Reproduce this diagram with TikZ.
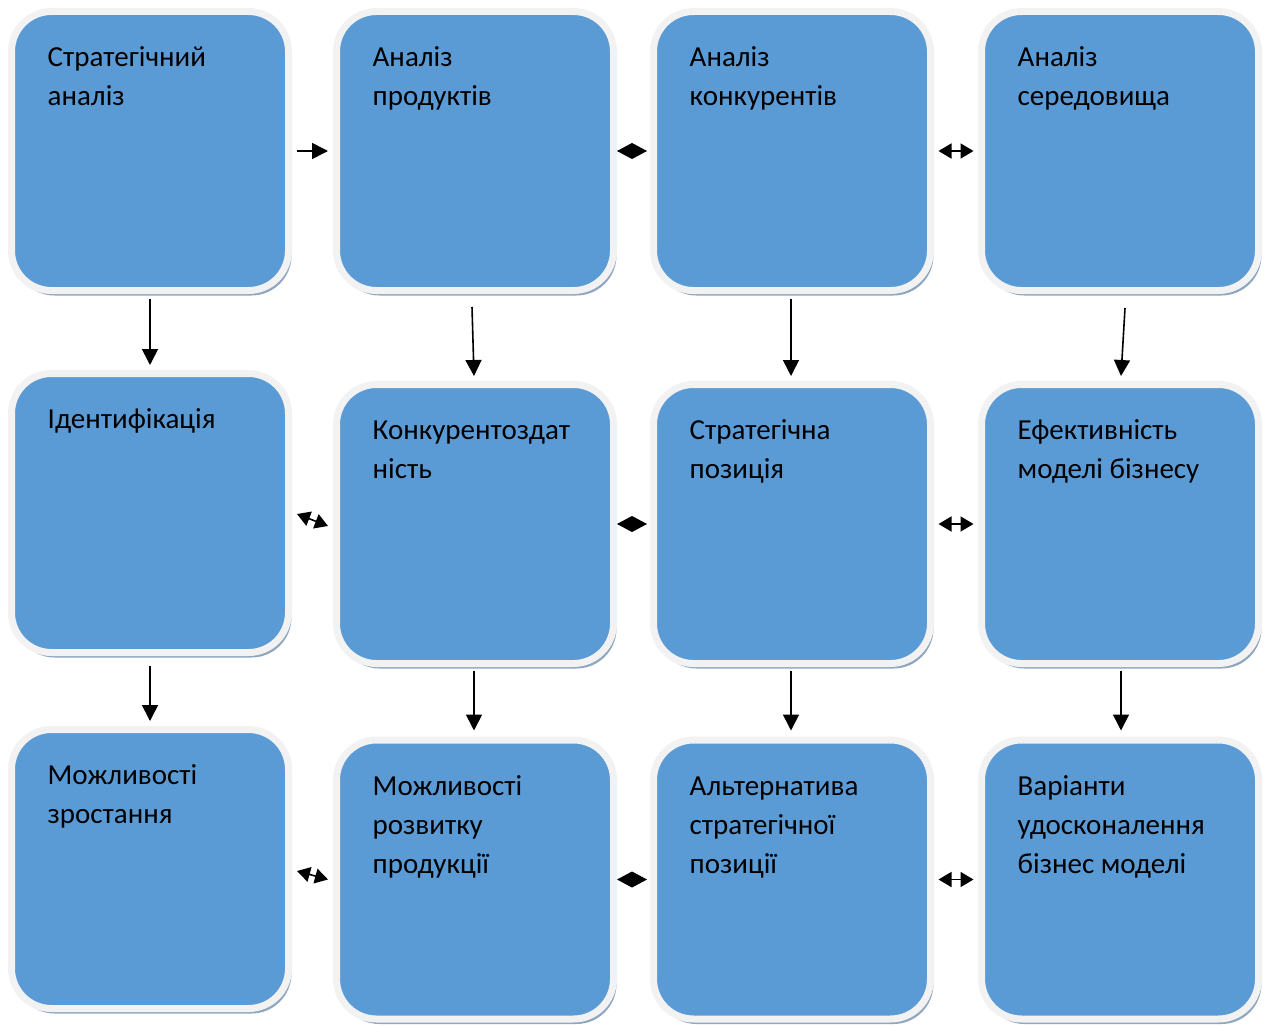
\documentclass[tikz,border=0pt]{standalone}
\usepackage{fontspec}
\setmainfont{Carlito}
\usetikzlibrary{positioning,calc,shadows}
\usetikzlibrary{arrows.meta}
\definecolor{boxblue}{HTML}{5B9BD5}
\definecolor{boxrim}{HTML}{F2F2F2}
\definecolor{boxshade}{HTML}{8FA6C0}
\tikzset{
  block/.style={rounded corners=40pt, fill=boxblue, draw=boxrim, line width=7pt,
    minimum width=277pt, minimum height=279pt, inner sep=0pt,
    drop shadow={shadow xshift=3pt, shadow yshift=-5pt, fill=boxshade, opacity=1}},
  txt/.style={anchor=base west, inner sep=0pt, align=flush left, text width=250pt,
    font=\fontsize{29}{39}\selectfont},
  onearr/.style={line width=1.6pt, -{Triangle[length=16pt,width=16pt]}},
  twoarr/.style={line width=1.6pt, {Triangle[length=13pt,width=15pt]}-{Triangle[length=13pt,width=15pt]}},
  diam/.style={line width=1pt, -{Diamond[length=30pt,width=16pt]}}
}
\begin{document}
\begin{tikzpicture}[x=1pt,y=-1pt]
	\useasboundingbox (0,0) rectangle (1273,1025);
	%% first row of blocks
	\node[block] (b11) at (150,151) {};
	\node[block] (b12) at (475,151) {};
	\node[block] (b13) at (792,151) {};
	\node[block] (b14) at (1120,151) {};
	%% second row
	\node[block] (b21) at (150,513) {};
	\node[block] (b22) at (475,524) {};
	\node[block] (b23) at (792,524) {};
	\node[block] (b24) at (1120,524) {};
	%% third row
	\node[block] (b31) at (150,869) {};
	\node[block] (b32) at (475,879.5) {};
	\node[block] (b33) at (792,879.5) {};
	\node[block] (b34) at (1120,879.5) {};
	%% texts, put at the top left of every block
	\node[txt] (t11) at ($(b11.north west)+(39.5,58.5)$) {Стратегічний\\аналіз};
	\node[txt] (t12) at ($(b12.north west)+(39.5,58.5)$) {Аналіз\\продуктів};
	\node[txt] (t13) at ($(b13.north west)+(39.5,58.5)$) {Аналіз\\конкурентів};
	\node[txt] (t14) at ($(b14.north west)+(39.5,58.5)$) {Аналіз\\середовища};
	\node[txt] (t21) at ($(b21.north west)+(39.5,58.5)$) {Ідентифікація};
	\node[txt] (t22) at ($(b22.north west)+(39.5,58.5)$) {Конкурентоздат\\ність};
	\node[txt] (t23) at ($(b23.north west)+(39.5,58.5)$) {Стратегічна\\позиція};
	\node[txt] (t24) at ($(b24.north west)+(39.5,58.5)$) {Ефективність\\моделі бізнесу};
	\node[txt] (t31) at ($(b31.north west)+(39.5,58.5)$) {Можливості\\зростання};
	\node[txt] (t32) at ($(b32.north west)+(39.5,58.5)$) {Можливості\\розвитку\\продукції};
	\node[txt] (t33) at ($(b33.north west)+(39.5,58.5)$) {Альтернатива\\стратегічної\\позиції};
	\node[txt] (t34) at ($(b34.north west)+(39.5,58.5)$) {Варіанти\\удосконалення\\бізнес моделі};
	%% arrows between the columns
	\draw[onearr] ($(b11.east)+(4.5,0)$) -- ($(b12.west)+(-5,0)$);
	\draw[diam] ($(b12.east)+(7,0)$) -- ($(b13.west)+(-3,0)$);
	\draw[twoarr] ($(b13.east)+(4.5,0)$) -- ($(b14.west)+(-4.5,0)$);
	\draw[twoarr] ($(b21.east)+(5,1)$) -- ($(b22.west)+(-5,2)$);
	\draw[diam] ($(b22.east)+(7,0)$) -- ($(b23.west)+(-3,0)$);
	\draw[twoarr] ($(b23.east)+(4.5,0)$) -- ($(b24.west)+(-4.5,0)$);
	\draw[twoarr] ($(b31.east)+(5,2)$) -- ($(b32.west)+(-5,0)$);
	\draw[diam] ($(b32.east)+(7,0)$) -- ($(b33.west)+(-3,0)$);
	\draw[twoarr] ($(b33.east)+(4.5,0)$) -- ($(b34.west)+(-4.5,0)$);
	%% arrows down the columns
	\draw[onearr] ($(b11.south)+(0,4.5)$) -- ($(b21.north)+(0,-5)$);
	\draw[onearr] ($(b12.south)+(-3,13)$) -- ($(b22.north)+(-1,-5)$);
	\draw[onearr] ($(b13.south)+(-1,4.5)$) -- ($(b23.north)+(-1,-5)$);
	\draw[onearr] ($(b14.south)+(5,14)$) -- ($(b24.north)+(1,-5)$);
	\draw[onearr] ($(b21.south)+(0,10)$) -- ($(b31.north)+(0,-5)$);
	\draw[onearr] ($(b22.south)+(-1,3.5)$) -- ($(b32.north)+(-1,-6)$);
	\draw[onearr] ($(b23.south)+(-1,3.5)$) -- ($(b33.north)+(-1,-6)$);
	\draw[onearr] ($(b24.south)+(1,3.5)$) -- ($(b34.north)+(1,-6)$);
\end{tikzpicture}
\end{document}
